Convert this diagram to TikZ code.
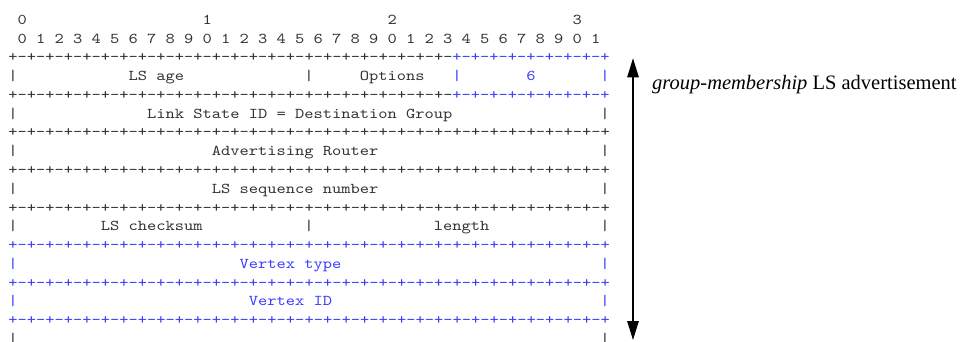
\documentclass[tikz,border=0pt]{standalone}
\usepackage{fontspec}
\usetikzlibrary{arrows.meta}
\setmainfont{Liberation Serif}
\newfontfamily\pktfont[Extension=.otf, FakeStretch=1.175]{lmmono10-regular}
\definecolor{pktgray}{RGB}{50,50,50}
\definecolor{pktblue}{RGB}{60,60,255}
% pieces of the "+-+-" separator lines
\newcommand\rulefour{+-+-+-+-}
\newcommand\rulefull{\rulefour\rulefour\rulefour\rulefour\rulefour\rulefour\rulefour\rulefour+}
\newcommand\ruleleft{\rulefour\rulefour\rulefour\rulefour\rulefour\rulefour}
\newcommand\ruleright{\rulefour\rulefour+}
\begin{document}
\begin{tikzpicture}[x=9.25pt, y=-18.77pt,
  pkt/.style={inner sep=0pt, outer sep=0pt, anchor=base west,
    font=\pktfont\fontsize{15}{18}\selectfont, text=pktgray},
  ext/.style={pkt, text=pktblue},
  span/.style={line width=1.2pt,
    {Triangle[length=19pt,width=11.5pt]}-{Triangle[length=19pt,width=11.5pt]}},
]
\useasboundingbox (-8.4pt,24.3pt) rectangle (951.6pt,-316.7pt);

% bit numbering
\foreach \d in {0,1,2,3} \node[pkt] (tens\d) at ({1+20*\d},0) {\d};
\foreach \b in {0,...,31} {
  \pgfmathtruncatemacro\u{mod(\b,10)}
  \node[pkt] (bit\b) at ({1+2*\b},1) {\u};
}

% word 0: LS age | Options | LS type
\node[pkt] (sepAl) at (0,2) {\ruleleft};
\node[ext] (sepAr) at (48,2) {\ruleright};
\node[pkt] (barA0) at (0,3) {|};
\node[pkt] (lsage) at (13,3) {LS age};
\node[pkt] (barA1) at (32,3) {|};
\node[pkt] (opts) at (38,3) {Options};
\node[ext] (barA2) at (48,3) {|};
\node[ext] (lstype) at (56,3) {6};
\node[ext] (barA3) at (64,3) {|};
\node[pkt] (sepBl) at (0,4) {\ruleleft};
\node[ext] (sepBr) at (48,4) {\ruleright};

% word 1: Link State ID
\node[pkt] (barB0) at (0,5) {|};
\node[pkt] (lsid) at (15,5) {Link State ID = Destination Group};
\node[pkt] (barB1) at (64,5) {|};
\node[pkt] (sepC) at (0,6) {\rulefull};

% word 2: Advertising Router
\node[pkt] (barC0) at (0,7) {|};
\node[pkt] (advrtr) at (22,7) {Advertising Router};
\node[pkt] (barC1) at (64,7) {|};
\node[pkt] (sepD) at (0,8) {\rulefull};

% word 3: LS sequence number
\node[pkt] (barD0) at (0,9) {|};
\node[pkt] (lsseq) at (22,9) {LS sequence number};
\node[pkt] (barD1) at (64,9) {|};
\node[pkt] (sepE) at (0,10) {\rulefull};

% word 4: LS checksum | length
\node[pkt] (barE0) at (0,11) {|};
\node[pkt] (lscks) at (10,11) {LS checksum};
\node[pkt] (barE1) at (32,11) {|};
\node[pkt] (lslen) at (46,11) {length};
\node[pkt] (barE2) at (64,11) {|};
\node[ext] (sepF) at (0,12) {\rulefull};

% body: Vertex type
\node[ext] (barF0) at (0,13) {|};
\node[ext] (vtype) at (25,13) {Vertex type};
\node[ext] (barF1) at (64,13) {|};
\node[ext] (sepG) at (0,14) {\rulefull};

% body: Vertex ID
\node[ext] (barG0) at (0,15) {|};
\node[ext] (vid) at (26,15) {Vertex ID};
\node[ext] (barG1) at (64,15) {|};
\node[ext] (sepH) at (0,16) {\rulefull};

% continuation
\node[pkt] (barH0) at (0,17) {|};
\node[pkt] (barH1) at (64,17) {|};

% extent of the advertisement
\coordinate (spanTop) at (624.6pt,-34pt);
\coordinate (spanBot) at (624.6pt,-315.7pt);
\draw[span] (spanTop) -- (spanBot);
\node[anchor=base west, inner sep=0pt, font=\fontsize{20.5}{24}\selectfont]
  (lsaname) at (643.6pt,-64.7pt) {\textit{group-membership} LS advertisement};
\end{tikzpicture}
\end{document}
